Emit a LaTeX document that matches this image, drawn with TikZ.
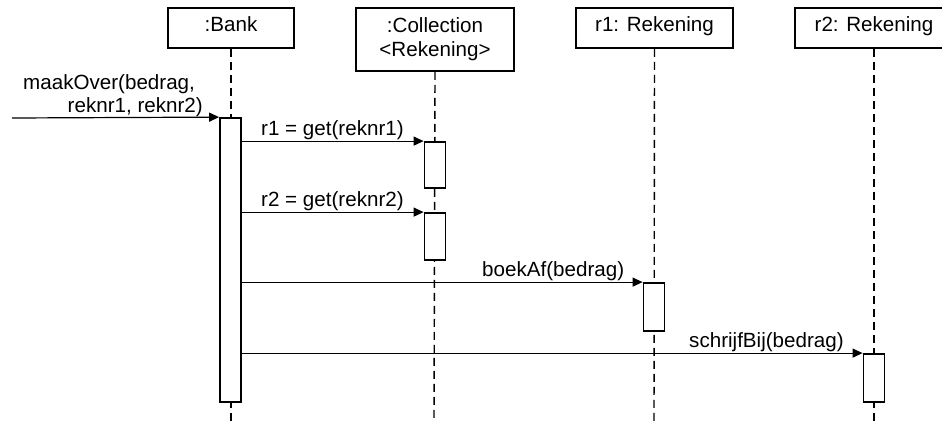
\documentclass[tikz,border=0pt]{standalone}
\usepackage{fontspec}
\setmainfont{Liberation Sans}
\usetikzlibrary{arrows.meta}
\begin{document}
\begin{tikzpicture}[x=1pt,y=-1pt,
  headbox/.style={draw,line width=1.8pt,inner sep=0pt,minimum height=40pt,
    align=center,font=\fontsize{20.6}{24}\selectfont},
  head/.style={headbox,text height=15pt,text depth=9pt},
  life/.style={dash pattern=on 8pt off 5pt,line width=1.4pt},
  act/.style={draw,line width=1.8pt,fill=white,inner sep=0pt,minimum width=21pt},
  msg/.style={line width=1.2pt,-{Triangle[length=10pt,width=9pt]}},
  lbl/.style={font=\fontsize{20.6}{23}\selectfont,inner sep=0pt}]
\useasboundingbox (0,0) rectangle (942,421);

% object heads
\node[head,minimum width=126pt] (bank) at (231,28) {:Bank};
\node[headbox,minimum width=158pt,minimum height=63pt] (coll) at (435,39.5) {:Collection\\<Rekening>};
\node[head,minimum width=157pt] (rek1) at (654.5,28) {r1: Rekening};
\node[head,minimum width=158pt] (rek2) at (874,28) {r2: Rekening};

% lifelines
\coordinate (bankEnd) at (231,424);
\coordinate (collEnd) at (434,424);
\coordinate (rek1End) at (654,424);
\coordinate (rek2End) at (874,424);
\draw[life] (bank.south) -- (bankEnd);
\draw[life] (coll.south) -- (collEnd);
\draw[life] (rek1.south) -- (rek1End);
\draw[life] (rek2.south) -- (rek2End);

% activation bars
\node[act,minimum height=284pt] (aBank) at (230.5,260) {};
\node[act,minimum height=46pt] (aC1) at (435,165) {};
\node[act,minimum height=47pt] (aC2) at (435,236.5) {};
\node[act,minimum height=48pt] (aR1) at (654,307) {};
\node[act,minimum height=48pt] (aR2) at (874,378) {};

% messages
\coordinate (start) at (12,118);
\draw[msg] (start) -- (aBank.north west);
\draw[msg] (aBank.east |- aC1.north west) -- (aC1.north west);
\draw[msg] (aBank.east |- aC2.north west) -- (aC2.north west);
\draw[msg] (aBank.east |- aR1.north west) -- (aR1.north west);
\draw[msg] (aBank.east |- aR2.north west) -- (aR2.north west);

% message labels
\node[lbl,anchor=base west] (lMaak) at (23,89) {maakOver(bedrag,};
\node[lbl,anchor=base east] (lMaakB) at (203,112) {reknr1, reknr2)};
\node[lbl,anchor=base west] (lGet1) at (261,135) {r1 = get(reknr1)};
\node[lbl,anchor=base west] (lGet2) at (261,206) {r2 = get(reknr2)};
\node[lbl,anchor=base west] (lBoek) at (482,276) {boekAf(bedrag)};
\node[lbl,anchor=base west] (lSchr) at (689,347) {schrijfBij(bedrag)};
\end{tikzpicture}
\end{document}
